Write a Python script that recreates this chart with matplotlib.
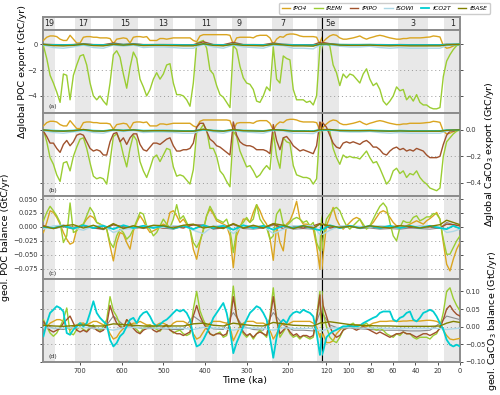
import numpy as np
import matplotlib.pyplot as plt

# time axis in ka: 8 ka steps down to 124 ka, 3 ka steps after that
age = np.concatenate([np.arange(788, 123, -8), np.arange(123, -1, -3)])
# coarse time axis for the small, near-zero series
age_coarse = [788, 764, 740, 716, 692, 668, 644, 620, 596, 572, 548, 524, 500, 476, 452,
              428, 404, 380, 356, 332, 308, 284, 260, 236, 212, 188, 164, 140, 124, 117,
              108, 99, 90, 81, 72, 63, 54, 45, 36, 27, 18, 12, 6, 0]

series_names = ['fPO4', 'fREMI', 'fPIPO', 'fSOWI', 'fCO2T', 'fBASE']
series_colors = ['goldenrod', 'yellowgreen', 'sienna', 'lightblue', 'darkturquoise', 'olive']

mis_bands = [(790, 760), (712, 674), (621, 561), (522, 477), (424, 371),
             (336, 300), (240, 188), (130, 109), (56, 29), (14, 0)]
mis_labels = ['19', '17', '15', '13', '11', '9', '7', '5e', '3', '1']

# ---- (a) global POC export anomaly (GtC/yr)
po4_a = [0.3, 0.55, 0.65, 0.65, 0.6, 0.4, 0.3, 0.3, 0.7, 0.4, 0.1, 0.1, 0.55, 0.6, 0.6, 0.55,
         0.55, 0.5, 0.5, 0.5, 0.45, 0.05, 0.4, 0.45, 0.5, 0.45, 0.1, 0.55, 0.6, 0.6, 0.55, 0.6,
         0.3, 0.3, 0.3, 0.45, 0.45, 0.4, 0.45, 0.5, 0.5, 0.5, 0.5, 0.5, 0.5, 0.3, 0.2, 0.65,
         0.75, 0.75, 0.75, 0.75, 0.75, 0.75, 0.75, 0.75, 0.7, 0.0, 0.5, 0.55, 0.55, 0.55, 0.55,
         0.5, 0.65, 0.7, 0.7, 0.7, 0.5, 0.0, 0.4, 0.6, 0.55, 0.75, 0.8, 0.8, 0.75, 0.65, 0.6,
         0.6, 0.6, 0.6, 0.55, 0.0,
         0.2, 0.45, 0.65, 0.75, 0.7, 0.5, 0.4, 0.4, 0.45, 0.5, 0.57, 0.65, 0.5, 0.4, 0.5, 0.57,
         0.65, 0.7, 0.65, 0.57, 0.5, 0.45, 0.4, 0.4, 0.45, 0.45, 0.5, 0.5, 0.5, 0.5, 0.52, 0.55,
         0.57, 0.65, 0.62, 0.57, -0.1, -0.3, -0.25, -0.13, -0.03, 0.0]
remi_a = [-0.1, -1.1, -2.4, -3.0, -3.7, -4.5, -2.3, -2.4, -4.3, -2.4, -1.6, -0.9, -0.8, -1.6,
          -3.0, -4.0, -4.3, -4.0, -4.4, -4.7, -3.0, -0.8, -0.5, -1.0, -2.3, -3.4, -1.8, -0.6,
          -1.1, -2.7, -3.3, -4.0, -3.5, -2.7, -2.2, -2.7, -2.3, -1.6, -1.5, -3.0, -3.9,
          -3.9, -4.0, -4.3, -4.8, -3.0, 0.1, 0.2, 0.3, -0.3, -2.0, -2.3, -3.2, -3.9, -4.1, -4.5,
          -4.9, -0.1, -0.4, -1.7, -2.6, -3.0, -3.1, -3.5, -4.4, -4.5, -4.0, -3.3, -3.6, -0.2,
          -2.7, -3.0, -0.9, -1.1, -1.2, -3.5, -4.3, -4.3, -4.3, -4.5, -4.4, -4.7, -4.0, -0.2,
          0.0, 0.0, -0.1, -1.6, -2.2, -3.2, -2.3, -2.6, -2.3, -2.4, -2.7, -3.0, -2.3, -1.9, -2.7,
          -3.2, -3.0, -3.5, -4.4, -4.7, -4.4, -4.0, -3.3, -3.6, -3.5, -4.3, -4.0, -4.4, -3.9,
          -4.5, -4.7, -4.7, -4.9, -5.0, -5.0, -4.9, -2.5, -1.3, -0.8, -0.4, -0.1, 0.0]
pipo_a = [0.0, -0.02, -0.03, -0.02, 0.05, -0.02, -0.03, 0.1, -0.01, 0.05, -0.02, -0.02, -0.02,
          -0.02, -0.03, -0.03, 0.2, -0.02, -0.03, 0.15, -0.02, -0.02, -0.03, 0.1, 0.0, -0.03,
          -0.03, -0.03, 0.15, 0.05, -0.02, -0.02, -0.02, -0.02, -0.02, -0.03, -0.02, -0.03,
          -0.03, -0.03, -0.03, 0.0, 0.0, 0.0]
sowi_a = [-0.05, -0.25, -0.3, -0.2, -0.05, -0.25, -0.3, -0.05, -0.15, -0.05, -0.25, -0.2, -0.2,
          -0.25, -0.3, -0.3, 0.0, -0.2, -0.3, -0.05, -0.2, -0.25, -0.3, -0.05, -0.1, -0.3, -0.3,
          -0.35, -0.05, 0.0, -0.15, -0.2, -0.2, -0.15, -0.25, -0.3, -0.25, -0.3, -0.3, -0.3,
          -0.3, -0.1, -0.05, 0.0]
co2t_a = [-0.02, -0.05, -0.06, -0.04, 0.0, -0.05, -0.06, 0.0, -0.03, 0.0, -0.05, -0.04, -0.04,
          -0.05, -0.06, -0.06, 0.02, -0.04, -0.06, 0.0, -0.04, -0.05, -0.06, 0.0, -0.02, -0.06,
          -0.06, -0.07, 0.0, 0.0, -0.03, -0.04, -0.04, -0.03, -0.05, -0.06, -0.05, -0.06, -0.06,
          -0.06, -0.06, -0.02, -0.01, 0.0]
base_a = [0.0, -0.1, -0.12, -0.08, 0.02, -0.1, -0.12, 0.0, -0.06, 0.0, -0.1, -0.08, -0.08, -0.1,
          -0.12, -0.12, 0.05, -0.08, -0.12, 0.02, -0.08, -0.1, -0.12, 0.02, -0.04, -0.12, -0.12,
          -0.14, 0.02, 0.03, -0.06, -0.08, -0.08, -0.06, -0.1, -0.12, -0.1, -0.12, -0.12, -0.12,
          -0.12, -0.04, -0.02, 0.0]

# ---- (b) global CaCO3 export anomaly (GtC/yr)
po4_b = [0.03, 0.055, 0.065, 0.065, 0.06, 0.04, 0.03, 0.03, 0.07, 0.04, 0.01, 0.01, 0.055, 0.06,
         0.06, 0.055, 0.055, 0.05, 0.05, 0.05, 0.045, 0.005, 0.04, 0.045, 0.05, 0.045, 0.01,
         0.055, 0.06, 0.06, 0.055, 0.06, 0.03, 0.03, 0.03, 0.045, 0.045, 0.04, 0.045, 0.05, 0.05,
         0.05, 0.05, 0.05, 0.05, 0.03, 0.02, 0.065, 0.075, 0.075, 0.075, 0.075, 0.075, 0.075,
         0.075, 0.075, 0.07, 0.0, 0.05, 0.055, 0.055, 0.055, 0.055, 0.05, 0.065, 0.07, 0.07, 0.07,
         0.05, 0.0, 0.04, 0.06, 0.055, 0.075, 0.08, 0.08, 0.075, 0.065, 0.06, 0.06, 0.06, 0.06,
         0.055, 0.0,
         0.02, 0.045, 0.065, 0.075, 0.07, 0.05, 0.04, 0.04, 0.045, 0.05, 0.057, 0.065, 0.05, 0.04,
         0.05, 0.057, 0.065, 0.07, 0.065, 0.057, 0.05, 0.045, 0.04, 0.04, 0.045, 0.045, 0.05,
         0.05, 0.05, 0.05, 0.052, 0.055, 0.057, 0.065, 0.062, 0.057, -0.01, -0.03, -0.025,
         -0.013, -0.003, 0.0]
remi_b = [0.0, -0.09, -0.21, -0.26, -0.34, -0.39, -0.25, -0.24, -0.31, -0.2, -0.13, -0.07, -0.06,
          -0.14, -0.25, -0.35, -0.37, -0.36, -0.37, -0.41, -0.24, -0.05, -0.03, -0.08, -0.19,
          -0.28, -0.14, -0.04, -0.08, -0.24, -0.31, -0.36, -0.29, -0.21, -0.19, -0.24, -0.19,
          -0.14, -0.15, -0.28, -0.35,
          -0.34, -0.35, -0.38, -0.41, -0.3, -0.02, 0.0, 0.04, 0.0, -0.14, -0.14, -0.2, -0.31,
          -0.34, -0.39, -0.43, -0.01, -0.05, -0.16, -0.22, -0.28, -0.27, -0.31, -0.36, -0.34,
          -0.3, -0.27, -0.3, -0.02, -0.2, -0.29, -0.06, -0.09, -0.1, -0.27, -0.34, -0.35, -0.36,
          -0.36, -0.37, -0.41, -0.37, 0.0,
          0.0, 0.0, -0.01, -0.14, -0.21, -0.26, -0.19, -0.21, -0.2, -0.21, -0.21, -0.22, -0.19,
          -0.16, -0.21, -0.25, -0.24, -0.29, -0.35, -0.41, -0.38, -0.31, -0.29, -0.33, -0.31,
          -0.36, -0.33, -0.34, -0.31, -0.36, -0.39, -0.41, -0.44, -0.45, -0.46, -0.44, -0.2,
          -0.09, -0.06, -0.03, -0.01, 0.0]
pipo_b = [-0.01, -0.05, -0.1, -0.1, -0.14, -0.17, -0.11, -0.08, -0.12, -0.09, -0.04, -0.03, -0.04,
          -0.09, -0.14, -0.16, -0.15, -0.16, -0.19, -0.19, -0.09, -0.03, -0.02, -0.09, -0.06,
          -0.11, -0.06, -0.03, -0.03, -0.11, -0.15, -0.16, -0.13, -0.1, -0.1, -0.11, -0.09,
          -0.07, -0.06, -0.12, -0.16,
          -0.16, -0.15, -0.15, -0.14, -0.1, 0.02, 0.05, 0.05, -0.01, -0.07, -0.09, -0.12, -0.13,
          -0.15, -0.17, -0.19, 0.06, -0.04, -0.09, -0.11, -0.12, -0.12, -0.13, -0.15, -0.15,
          -0.15, -0.16, -0.18, 0.04, -0.08, -0.15, -0.06, -0.05, -0.08, -0.12, -0.14, -0.16,
          -0.15, -0.16, -0.17, -0.18, -0.12, 0.06,
          0.05, 0.02, -0.04, -0.1, -0.13, -0.14, -0.1, -0.09, -0.1, -0.09, -0.1, -0.11, -0.09,
          -0.08, -0.1, -0.13, -0.13, -0.15, -0.18, -0.19, -0.16, -0.14, -0.13, -0.15, -0.14,
          -0.16, -0.15, -0.16, -0.14, -0.15, -0.16, -0.19, -0.21, -0.21, -0.21, -0.2, -0.11,
          -0.04, -0.01, -0.01, 0.0, 0.0]
sowi_b = [-0.005, -0.02, -0.025, -0.015, -0.005, -0.02, -0.025, -0.005, -0.012, -0.005, -0.02,
          -0.016, -0.016, -0.02, -0.025, -0.025, 0.0, -0.016, -0.025, -0.005, -0.016, -0.02,
          -0.025, -0.005, -0.008, -0.025, -0.025, -0.028, -0.005, 0.0, -0.012, -0.016, -0.016,
          -0.012, -0.02, -0.025, -0.02, -0.025, -0.025, -0.025, -0.025, -0.008, -0.004, 0.0]
co2t_b = [-0.002, -0.006, -0.008, -0.005, 0.0, -0.006, -0.008, 0.0, -0.004, 0.0, -0.006, -0.005,
          -0.005, -0.006, -0.008, -0.008, 0.002, -0.005, -0.008, 0.0, -0.005, -0.006, -0.008,
          0.0, -0.002, -0.008, -0.008, -0.009, 0.0, 0.0, -0.004, -0.005, -0.005, -0.004, -0.006,
          -0.008, -0.006, -0.008, -0.008, -0.008, -0.008, -0.002, -0.001, 0.0]
base_b = [0.0, -0.008, -0.01, -0.006, 0.003, -0.008, -0.01, 0.0, -0.005, 0.0, -0.008, -0.006,
          -0.006, -0.008, -0.01, -0.01, 0.005, -0.006, -0.01, 0.002, -0.006, -0.008, -0.01, 0.002,
          -0.003, -0.01, -0.01, -0.012, 0.002, 0.003, -0.005, -0.006, -0.006, -0.005, -0.008,
          -0.01, -0.008, -0.01, -0.01, -0.01, -0.01, -0.003, -0.001, 0.0]

# ---- (c) geological POC balance (GtC/yr)
po4_c = [-0.01, 0.008, 0.029, 0.026, 0.017, 0.005, -0.01, -0.022, -0.031, -0.028, -0.004, 0.002,
         0.005, 0.014, 0.02, 0.017, 0.008, 0.005, 0.002, -0.004, -0.034, -0.061, -0.028, -0.01,
         -0.013, -0.028, -0.04, -0.007, 0.008, 0.02, 0.011, -0.001, -0.01, -0.007, -0.004, 0.002,
         0.005, 0.002, 0.026, 0.029, 0.02,
         0.008, 0.014, 0.005, -0.004, -0.04, -0.058, -0.028, -0.004, 0.02, 0.032, 0.023, 0.011,
         0.008, 0.005, 0.002, -0.016, -0.073, -0.016, -0.001, 0.014, 0.014, 0.008, 0.026, 0.04,
         0.029, 0.014, 0.005, -0.02, -0.06, 0.002, -0.028, -0.043, 0.005, 0.011, 0.026, 0.046,
         0.014, 0.005, 0.005, 0.002, -0.004, -0.034, -0.076,
         -0.05, 0.002, 0.017, 0.035, 0.014, 0.002, -0.004, 0.002, 0.008, 0.014, 0.017, 0.014,
         0.002, -0.001, 0.002, 0.008, 0.017, 0.026, 0.029, 0.026, 0.017, 0.008, 0.002, 0.002,
         -0.001, 0.002, 0.005, 0.008, 0.011, 0.008, 0.005, 0.011, 0.015, 0.02, 0.026, 0.014,
         -0.028, -0.067, -0.079, -0.058, -0.04, -0.028]
remi_c = [0.011, 0.026, 0.037, 0.029, 0.02, 0.008, -0.028, -0.016, 0.043, -0.01, -0.007, 0.002,
          0.005, 0.02, 0.035, 0.026, 0.008, 0.005, 0.002, -0.004, -0.028, -0.037, -0.016, -0.004,
          -0.01, -0.022, -0.016, -0.004, 0.011, 0.026, 0.023, 0.002, -0.004, -0.016, -0.01,
          0.002, 0.014, 0.005, -0.001, 0.014, 0.04,
          0.014, 0.02, 0.008, -0.004, -0.028, -0.037, -0.025, -0.007, 0.02, 0.037, 0.026, 0.014,
          0.011, 0.008, 0.014, -0.004, -0.046, -0.007, 0.002, 0.008, 0.017, 0.008, 0.014, 0.04,
          0.014, 0.005, -0.001, -0.022, -0.016, 0.023, 0.032, 0.005, 0.002, 0.008, 0.014, 0.017,
          0.014, 0.008, 0.011, 0.002, 0.008, -0.028, -0.043,
          -0.02, 0.014, 0.023, 0.032, 0.035, 0.029, 0.014, 0.002, -0.004, 0.002, 0.008, 0.014,
          0.005, -0.004, 0.002, 0.014, 0.026, 0.037, 0.043, 0.035, 0.008, -0.016, -0.025, -0.001,
          0.011, 0.008, 0.008, 0.017, 0.02, 0.011, 0.014, 0.018, 0.018, 0.024, 0.023, 0.014,
          -0.022, -0.049, -0.049, -0.037, -0.025, -0.016]
pipo_c = [0.002, -0.002, 0.003, -0.001, 0.002, -0.002, -0.003, 0.004, 0.0, -0.002, -0.001, 0.002,
          -0.002, 0.001, -0.002, 0.004, 0.002, -0.003, -0.001, 0.005, -0.002, 0.001, -0.002,
          0.005, -0.003, 0.001, -0.002, 0.002, 0.006, -0.002, 0.0, 0.002, -0.001, 0.001, -0.002,
          0.0, 0.002, -0.001, 0.001, 0.0, -0.002, 0.005, 0.004, 0.002]
sowi_c = [-0.004, 0.002, 0.003, -0.002, -0.006, 0.002, 0.003, -0.01, -0.004, -0.003, 0.002, 0.001,
          -0.001, 0.002, 0.002, -0.006, -0.012, 0.002, 0.003, -0.012, 0.002, 0.002, 0.001, -0.012,
          -0.004, 0.002, 0.002, 0.002, -0.014, -0.006, 0.002, 0.001, 0.001, 0.0, 0.002, 0.001,
          0.0, 0.001, 0.001, 0.002, 0.0, -0.01, -0.008, -0.004]
co2t_c = [0.0, -0.002, 0.002, -0.003, 0.003, -0.002, 0.002, -0.004, 0.003, -0.002, 0.002, -0.002,
          0.002, -0.003, 0.002, -0.004, 0.003, -0.002, 0.002, -0.005, 0.003, -0.002, 0.002,
          -0.005, 0.002, -0.002, 0.002, -0.003, -0.006, 0.003, -0.002, 0.002, -0.002, 0.002,
          -0.002, 0.002, -0.002, 0.002, -0.002, 0.002, -0.002, -0.004, 0.002, -0.003]
base_c = [0.001, -0.003, 0.002, 0.004, -0.002, 0.003, -0.004, 0.006, -0.003, 0.002, -0.002, 0.003,
          0.002, -0.002, 0.003, 0.005, -0.002, 0.001, -0.003, 0.006, -0.002, 0.003, -0.002, 0.006,
          0.003, -0.003, 0.002, -0.002, 0.005, 0.002, -0.001, 0.001, -0.002, 0.002, 0.0, -0.002,
          0.002, 0.001, -0.002, 0.001, 0.004, 0.012, 0.008, 0.004]
other_c = [0.002, -0.003, 0.0, -0.004, 0.003, -0.002, -0.005, 0.004, -0.002, 0.002, -0.003, 0.0,
           -0.002, -0.004, 0.001, 0.003, 0.004, -0.004, -0.002, 0.004, -0.003, -0.004, -0.002,
           0.003, 0.001, -0.004, -0.003, -0.004, 0.006, 0.002, -0.002, 0.001, -0.003, -0.002,
           -0.004, -0.003, -0.004, -0.002, -0.003, -0.004, -0.002, 0.008, 0.004, 0.002]

# ---- (d) geological CaCO3 balance (GtC/yr)
po4_d = [0.005, 0.0, 0.01, 0.015, 0.02, 0.02, 0.015, 0.0, -0.01, 0.0, 0.005, 0.01, 0.01, 0.005,
         0.01, 0.015, 0.015, 0.01, 0.005, 0.0, -0.02, -0.035, -0.03, -0.015, -0.005, 0.0, 0.005,
         0.01, 0.01, 0.015, 0.01, 0.005, 0.005, 0.0, 0.005, 0.01, 0.01, 0.005, 0.0, 0.01, 0.015,
         0.015, 0.015, 0.01, 0.0, -0.02, -0.035, -0.03, -0.015, 0.0, 0.01, 0.015, 0.015, 0.015,
         0.012, 0.01, 0.0, -0.04, -0.02, 0.0, 0.01, 0.015, 0.015, 0.015, 0.01, 0.01, 0.01, 0.005,
         -0.01, -0.035, -0.02, 0.0, 0.01, 0.005, 0.01, 0.015, 0.015, 0.015, 0.015, 0.015, 0.015,
         0.01, 0.0, -0.03,
         -0.02, -0.045, -0.045, -0.04, -0.02, -0.01, 0.0, 0.0, 0.002, 0.0, 0.005, 0.005, 0.0, 0.0,
         0.005, 0.01, 0.012, 0.015, 0.015, 0.015, 0.016, 0.016, 0.015, 0.015, 0.016, 0.016,
         0.017, 0.017, 0.016, 0.016, 0.017, 0.018, 0.018, 0.017, 0.015, 0.01, -0.01, -0.025,
         -0.035, -0.037, -0.035, -0.033]
remi_d = [0.02, 0.0, -0.018, -0.027, -0.018, 0.0, 0.02, 0.053, -0.018, -0.023, -0.008, 0.0,
          -0.008, -0.013, 0.0, 0.005, -0.008, -0.013, 0.0, 0.02, 0.085, 0.045, 0.029, 0.005,
          -0.004, 0.02, 0.01, 0.0, -0.008, -0.018, -0.004, 0.0, 0.005, 0.0, -0.008, -0.013, 0.0,
          0.005, -0.008, -0.018, -0.013,
          -0.01, -0.02, -0.025, -0.02, 0.05, 0.10, 0.045, 0.02, 0.0, -0.02, -0.025, -0.02, -0.015,
          -0.03, -0.025, 0.02, 0.115, 0.03, 0.0, -0.02, -0.03, -0.02, -0.035, -0.02, -0.01, -0.02,
          -0.03, 0.03, 0.11, 0.02, -0.03, -0.015, 0.0, -0.02, -0.03, -0.025, -0.035, -0.025,
          -0.03, -0.035, -0.03, 0.03, 0.10,
          0.04, 0.0, -0.03, -0.04, -0.045, -0.03, -0.01, 0.0, 0.005, 0.01, 0.0, -0.005, 0.005,
          0.01, 0.0, -0.005, -0.01, -0.005, -0.01, -0.02, -0.025, -0.03, -0.02, -0.025, -0.015,
          -0.02, -0.02, -0.03, -0.035, -0.03, -0.03, -0.03, -0.035, -0.025, -0.02, 0.0, 0.04, 0.1,
          0.11, 0.08, 0.06, 0.045]
pipo_d = [0.015, 0.0, -0.01, -0.015, -0.01, -0.005, 0.01, 0.02, 0.03, 0.01, -0.01, -0.015, -0.01,
          -0.015, -0.005, 0.0, -0.01, -0.015, -0.01, 0.005, 0.06, 0.03, 0.01, 0.0, -0.005, 0.02,
          0.01, -0.005, -0.015, -0.02, -0.01, -0.005, 0.0, -0.01, -0.015, -0.01, 0.0, 0.005,
          -0.01, -0.015, -0.02,
          -0.02, -0.025, -0.02, -0.015, 0.03, 0.06, 0.03, 0.01, -0.005, -0.02, -0.025, -0.02,
          -0.02, -0.025, -0.02, 0.01, 0.085, 0.03, 0.005, -0.015, -0.025, -0.02, -0.03, -0.02,
          -0.015, -0.02, -0.025, 0.02, 0.085, 0.02, -0.02, -0.01, 0.0, -0.015, -0.025, -0.02,
          -0.03, -0.025, -0.025, -0.03, -0.025, 0.02, 0.09,
          0.06, 0.03, 0.0, -0.02, -0.03, -0.025, -0.01, -0.005, 0.0, -0.005, -0.01, -0.005, 0.0,
          -0.005, -0.01, -0.015, -0.02, -0.015, -0.02, -0.025, -0.03, -0.025, -0.02, -0.02,
          -0.015, -0.02, -0.02, -0.025, -0.03, -0.025, -0.02, -0.02, -0.025, -0.02, -0.015,
          -0.005, 0.02, 0.05, 0.06, 0.045, 0.035, 0.03]
co2t_d = [-0.027, 0.01, 0.039, 0.048, 0.058, 0.053, 0.043, -0.018, -0.023, -0.008, 0.001, 0.01,
          0.001, 0.01, 0.039, 0.072, 0.039, 0.025, 0.015, 0.006, -0.037, -0.056, -0.046, -0.027,
          -0.018, 0.001, 0.02, 0.025, 0.01, 0.029, 0.039, 0.043, 0.029, 0.01, 0.001, 0.006, 0.015,
          0.02, 0.029, 0.039, 0.048,
          0.043, 0.048, 0.039, 0.02, -0.027, -0.056, -0.051, -0.037, -0.018, 0.001, 0.025, 0.039,
          0.053, 0.067, 0.039, -0.008, -0.075, -0.045, -0.023, 0.001, 0.02, 0.039, 0.048, 0.058,
          0.053, 0.039, 0.02, -0.03, -0.088, -0.03, 0.01, 0.02, 0.01, 0.029, 0.039, 0.043, 0.039,
          0.048, 0.043, 0.039, 0.029, -0.018, -0.08,
          -0.07, -0.03, -0.02, -0.013, -0.009, -0.004, 0.001, 0.001, 0.003, 0.001, 0.001, 0.003,
          0.01, 0.015, 0.02, 0.025, 0.029, 0.039, 0.043, 0.043, 0.043, 0.02, 0.015, 0.025, 0.029,
          0.039, 0.043, 0.02, 0.015, 0.025, 0.039, 0.043, 0.048, 0.043, 0.029, 0.01, -0.008,
          -0.037, -0.051, -0.056, -0.051, -0.056]
sowi_d = [-0.003, -0.004, -0.004, -0.003, -0.002, -0.004, -0.005, -0.01, -0.003, -0.002, -0.004,
          -0.004, -0.004, -0.004, -0.005, -0.008, -0.002, -0.004, -0.005, -0.01, -0.004, -0.004,
          -0.005, -0.01, -0.003, -0.005, -0.005, -0.005, -0.012, -0.004, -0.003, -0.003, -0.004,
          -0.004, -0.004, -0.005, -0.005, -0.005, -0.005, -0.005, -0.005, -0.008, -0.006, -0.004]
base_d = [0.004, 0.002, 0.001, 0.003, 0.005, 0.002, 0.002, 0.008, 0.006, 0.004, 0.002, 0.002,
          0.002, 0.002, 0.002, 0.008, 0.01, 0.004, 0.002, 0.01, 0.006, 0.003, 0.002, 0.012, 0.008,
          0.004, 0.003, 0.002, 0.01, 0.014, 0.01, 0.006, 0.004, 0.003, 0.002, 0.002, 0.001, 0.001,
          0.001, 0.001, 0.002, 0.01, 0.015, 0.012]
other_d = [0.01, -0.005, -0.008, 0.0, 0.01, -0.006, -0.008, 0.03, 0.005, 0.0, -0.006, -0.005,
           -0.006, -0.008, -0.008, 0.03, 0.01, -0.006, -0.008, 0.04, 0.0, -0.008, -0.01, 0.04,
           0.005, -0.01, -0.01, -0.012, 0.04, 0.005, -0.006, -0.004, -0.006, -0.008, -0.01, -0.01,
           -0.01, -0.012, -0.012, -0.01, 0.01, 0.03, 0.025, 0.02]

# per panel: (x, y) for each of the six series in legend order, plus the grey extra line
panels = [
    dict(tag='(a)', series=[(age, po4_a), (age, remi_a), (age_coarse, pipo_a),
                            (age_coarse, sowi_a), (age_coarse, co2t_a), (age_coarse, base_a)],
         other=None, ylim=(-5.3, 1.15), yticks=[0, -2, -4],
         ylabel='Δglobal POC export (GtC/yr)', side='left', label_x=-0.058),
    dict(tag='(b)', series=[(age, po4_b), (age, remi_b), (age, pipo_b),
                            (age_coarse, sowi_b), (age_coarse, co2t_b), (age_coarse, base_b)],
         other=None, ylim=(-0.5, 0.13), yticks=[0.0, -0.2, -0.4],
         ylabel='Δglobal CaCO$_3$ export (GtC/yr)', side='right', label_x=1.165),
    dict(tag='(c)', series=[(age, po4_c), (age, remi_c), (age_coarse, pipo_c),
                            (age_coarse, sowi_c), (age_coarse, co2t_c), (age_coarse, base_c)],
         other=(age_coarse, other_c), ylim=(-0.0935, 0.0555),
         yticks=[0.05, 0.025, 0.0, -0.025, -0.05, -0.075],
         ylabel='geol. POC balance (GtC/yr)', side='left', label_x=-0.118),
    dict(tag='(d)', series=[(age, po4_d), (age, remi_d), (age, pipo_d),
                            (age_coarse, sowi_d), (age, co2t_d), (age_coarse, base_d)],
         other=(age_coarse, other_d), ylim=(-0.10, 0.135),
         yticks=[0.10, 0.05, 0.0, -0.05, -0.10],
         ylabel='geol. CaCO$_3$ balance (GtC/yr)', side='right', label_x=1.185),
]

W, H = 500, 395
fig = plt.figure(figsize=(W / 100, H / 100), dpi=100)


def rect(x0, x1, y0, y1):
    # pixel box (top-left origin) -> figure fraction
    return [x0 / W, 1 - y1 / H, (x1 - x0) / W, (y1 - y0) / H]


col_x = [(43, 322), (322, 460)]
col_xlim = [(789, 119), (124, 0)]
row_y = [(29.5, 112.7), (112.7, 196), (196, 279), (279, 362)]
spine_grey = '0.55'


def style_spines(ax, col):
    for s in ax.spines.values():
        s.set_color(spine_grey)
        s.set_linewidth(1.4)
    inner = 'right' if col == 0 else 'left'
    ax.spines[inner].set_color('black')
    ax.spines[inner].set_linewidth(0.8)


def shade(ax, xlim):
    for start, end in mis_bands:
        ax.axvspan(start, end, color='0.91', lw=0, zorder=0)
    ax.set_xlim(*xlim)


# header strip with MIS numbers
for col in range(2):
    hx = fig.add_axes(rect(*col_x[col], 17, 29.5))
    shade(hx, col_xlim[col])
    hx.set_ylim(0, 1)
    hx.set_xticks([])
    hx.set_yticks([])
    style_spines(hx, col)
    lo, hi = min(col_xlim[col]), max(col_xlim[col])
    px_per_ka = (col_x[col][1] - col_x[col][0]) / (hi - lo)
    for (start, end), lab in zip(mis_bands, mis_labels):
        s, e = min(start, hi), max(end, lo)
        if (s - e) * px_per_ka > 8:
            hx.text((s + e) / 2, 0.45, lab, ha='center', va='center', fontsize=5.8,
                    color='0.15')

legend_lines = []
for r, p in enumerate(panels):
    for col in range(2):
        ax = fig.add_axes(rect(*col_x[col], *row_y[r]))
        shade(ax, col_xlim[col])
        ax.set_ylim(*p['ylim'])
        ax.set_yticks(p['yticks'])
        ax.yaxis.grid(True, linestyle=(0, (1, 3)), color='0.6', lw=0.7)
        ax.set_axisbelow(True)
        if p['other'] is not None:
            ax.plot(p['other'][0], p['other'][1], color='0.55', lw=0.8, zorder=2)
        for name, c, (x, y) in zip(series_names, series_colors, p['series']):
            lw = 1.3 if name == 'fCO2T' else 1.0
            ln, = ax.plot(x, y, color=c, lw=lw, label=name, zorder=3)
            if r == 0 and col == 0:
                legend_lines.append(ln)
        style_spines(ax, col)
        ax.tick_params(axis='both', direction='out', length=2.5, width=0.6, pad=1.5,
                       labelsize=4.8, colors='0.2')
        if col == 0:
            ax.tick_params(axis='y', left=True, right=False,
                           labelleft=(p['side'] == 'left'), labelright=False)
            ax.text(0.02, 0.04, p['tag'], transform=ax.transAxes, fontsize=4.5,
                    color='0.2', va='bottom')
        else:
            ax.tick_params(axis='y', left=False, right=True,
                           labelleft=False, labelright=(p['side'] == 'right'))
        if (col == 0) == (p['side'] == 'left'):
            ax.set_ylabel(p['ylabel'], fontsize=6.8)
            if col == 1:
                ax.yaxis.set_label_position('right')
            ax.yaxis.set_label_coords(p['label_x'], 0.5)
        if r == 3:
            ax.set_xticks([700, 600, 500, 400, 300, 200] if col == 0
                          else [120, 100, 80, 60, 40, 20, 0])
        else:
            ax.set_xticks([])

fig.text(245 / W, 1 - 380 / H, 'Time (ka)', ha='center', va='center', fontsize=6.8)

fig.legend(legend_lines, series_names, loc='upper right', bbox_to_anchor=(0.986, 1.0),
           ncol=6, prop={'size': 4.3, 'style': 'italic'}, handlelength=1.4,
           handletextpad=0.5, columnspacing=1.2, borderpad=0.45, framealpha=1,
           edgecolor='0.8', fancybox=True)

fig.savefig('out.png', dpi=100)
